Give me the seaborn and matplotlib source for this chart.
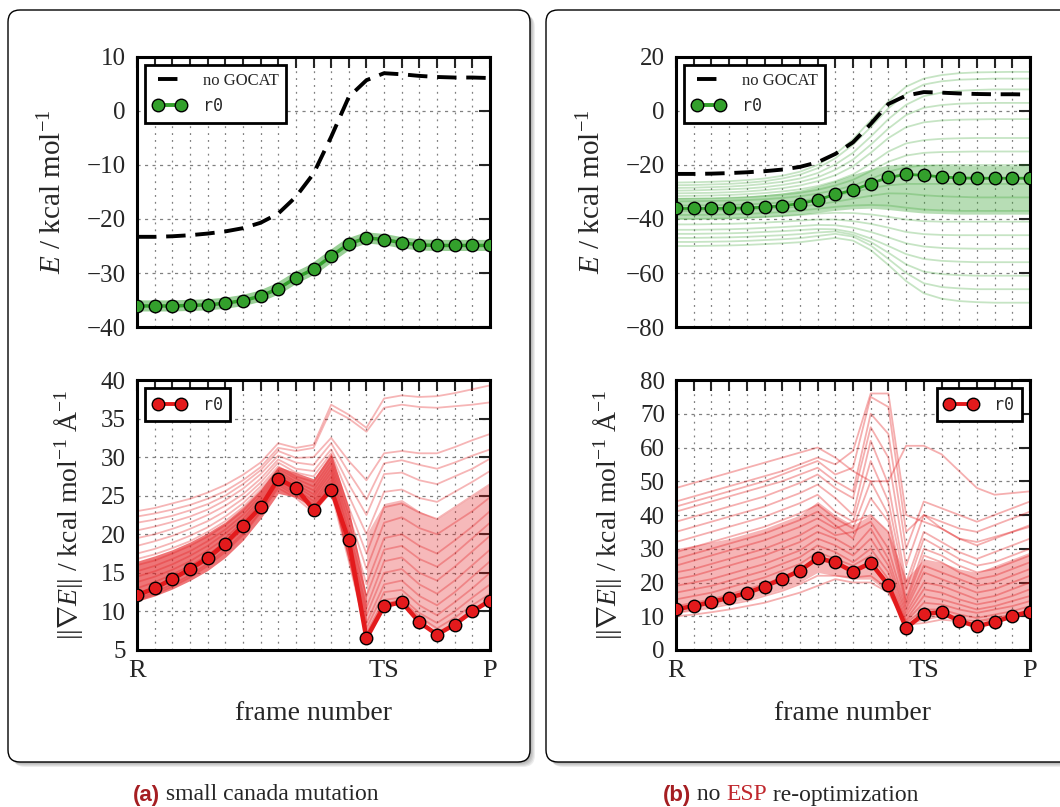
import matplotlib
matplotlib.use("Agg")
import matplotlib.pyplot as plt
import numpy as np
import pandas as pd
import seaborn as sns
from matplotlib.lines import Line2D
from matplotlib.patches import FancyBboxPatch
from matplotlib.transforms import IdentityTransform
from matplotlib.ticker import FixedLocator, MultipleLocator

# frames along the reaction path
frames = list(range(21))
frame_ticks = [0, 14, 20]
frame_labels = ["R", "TS", "P"]

# reference run r0 (same in both panels)
r0_energy = [-36.1, -36.1, -36.1, -36.0, -35.9, -35.6, -35.1, -34.3, -32.9, -30.9,
             -29.3, -26.9, -24.6, -23.5, -23.8, -24.4, -24.8, -24.9, -24.9, -24.9, -24.9]
r0_grad = [12.1, 13.0, 14.2, 15.5, 16.9, 18.8, 21.1, 23.5, 27.2, 26.0,
           23.2, 25.8, 19.2, 6.5, 10.7, 11.2, 8.6, 7.0, 8.3, 10.0, 11.4]
no_gocat_energy = [-23.3, -23.3, -23.2, -23.0, -22.7, -22.3, -21.7, -20.7, -19.0, -15.9,
                   -11.6, -4.8, 2.6, 5.7, 7.0, 6.8, 6.5, 6.3, 6.2, 6.2, 6.1]

# panel (a): gradient norms of the other runs
grad_a_runs = [
    [23.0, 23.4, 24.0, 24.6, 25.4, 26.4, 27.7, 29.3, 31.8, 31.2, 31.6, 36.8, 35.5, 33.8, 37.6, 38.0, 37.8, 37.9, 38.3, 38.8, 39.3],
    [22.3, 22.7, 23.2, 23.8, 24.6, 25.6, 27.0, 28.7, 31.2, 30.8, 31.2, 36.2, 35.0, 33.3, 36.4, 36.8, 36.5, 36.4, 36.6, 36.8, 37.1],
    [21.5, 21.9, 22.4, 23.1, 23.9, 25.0, 26.5, 28.3, 30.8, 29.9, 30.0, 32.5, 29.5, 27.0, 30.5, 30.8, 30.5, 30.5, 31.3, 32.2, 33.0],
    [20.5, 21.0, 21.6, 22.3, 23.2, 24.4, 25.9, 27.8, 30.2, 29.3, 29.0, 31.8, 28.0, 24.5, 29.2, 29.6, 29.0, 28.5, 29.3, 30.2, 31.0],
    [19.5, 20.0, 20.7, 21.5, 22.5, 23.7, 25.2, 27.2, 29.7, 28.5, 28.2, 31.0, 26.5, 22.5, 27.8, 28.0, 27.0, 26.5, 27.5, 28.5, 29.8],
    [18.5, 19.1, 19.8, 20.7, 21.7, 23.0, 24.6, 26.7, 29.3, 28.0, 27.5, 30.5, 25.0, 20.0, 25.5, 25.8, 24.7, 24.2, 25.5, 26.8, 28.2],
    [17.5, 18.1, 18.9, 19.8, 20.9, 22.3, 24.0, 26.2, 28.8, 27.5, 26.8, 30.0, 23.5, 17.5, 23.5, 24.0, 22.8, 22.0, 23.5, 25.0, 26.5],
    [16.8, 17.4, 18.2, 19.1, 20.3, 21.7, 23.5, 25.8, 28.5, 27.2, 26.2, 29.5, 22.5, 15.5, 21.5, 22.2, 20.8, 20.0, 21.5, 23.0, 24.8],
    [16.0, 16.6, 17.5, 18.5, 19.7, 21.2, 23.0, 25.4, 28.2, 26.8, 25.7, 29.0, 21.5, 13.5, 19.5, 20.0, 18.5, 17.5, 19.2, 21.0, 23.0],
    [15.2, 15.9, 16.8, 17.8, 19.1, 20.6, 22.5, 25.0, 27.9, 26.5, 25.2, 28.5, 20.5, 12.0, 18.0, 18.5, 16.8, 15.8, 17.5, 19.5, 21.5],
    [14.5, 15.2, 16.1, 17.2, 18.5, 20.1, 22.0, 24.6, 27.6, 26.2, 24.8, 28.0, 19.8, 10.5, 16.5, 17.0, 15.0, 14.0, 15.8, 17.8, 19.8],
    [13.8, 14.5, 15.4, 16.5, 17.9, 19.5, 21.6, 24.2, 27.3, 25.9, 24.3, 27.5, 19.0, 9.5, 15.0, 15.5, 13.5, 12.3, 14.0, 16.0, 18.0],
    [13.0, 13.8, 14.8, 15.9, 17.3, 19.0, 21.1, 23.8, 27.0, 25.6, 23.9, 27.0, 18.3, 8.5, 13.5, 14.0, 12.0, 10.8, 12.5, 14.5, 16.5],
    [12.3, 13.1, 14.1, 15.3, 16.7, 18.5, 20.6, 23.4, 26.7, 25.3, 23.5, 26.5, 17.5, 7.8, 12.5, 12.8, 10.8, 9.5, 11.2, 13.0, 15.0],
    [11.6, 12.5, 13.5, 14.7, 16.2, 18.0, 20.2, 23.0, 26.4, 25.0, 23.2, 26.0, 17.0, 7.2, 11.5, 11.8, 9.8, 8.5, 10.0, 11.8, 13.5],
    [11.4, 12.2, 13.2, 14.4, 15.9, 17.7, 19.9, 22.8, 26.0, 24.7, 22.8, 25.5, 16.5, 7.0, 11.0, 11.5, 9.3, 7.8, 9.2, 10.8, 12.3],
]
# dense core of the runs in panel (a), before and after the drop at frame 13
grad_a_pre_frames = frames[:14]
grad_a_pre_lo = [11.3, 12.0, 12.9, 14.0, 15.3, 17.0, 19.2, 22.0, 25.3, 24.8, 23.5, 25.5, 16.5, 6.5]
grad_a_pre_hi = [16.5, 17.2, 18.0, 19.0, 20.2, 21.6, 23.5, 25.8, 28.8, 28.0, 27.2, 30.5, 23.5, 12.0]
grad_a_post_frames = frames[13:]
grad_a_post_lo = [6.5, 10.5, 11.0, 9.0, 7.5, 8.5, 10.0, 11.5]
grad_a_post_hi = [20.0, 24.0, 24.5, 23.0, 22.0, 23.5, 25.0, 26.5]

# panel (b): energies of the other runs
energy_b_runs = [
    [-26.5, -26.4, -26.2, -26.0, -25.6, -25.0, -24.0, -22.5, -20.0, -16.0, -10.5, -3.5, 3.5, 9.0, 12.0, 13.3, 14.0, 14.3, 14.4, 14.5, 14.5],
    [-27.5, -27.4, -27.2, -27.0, -26.6, -26.0, -25.0, -23.6, -21.2, -17.5, -12.5, -6.0, 1.0, 6.5, 9.8, 11.0, 11.6, 11.8, 12.0, 12.0, 12.0],
    [-28.5, -28.4, -28.2, -28.0, -27.6, -27.0, -26.2, -25.0, -23.0, -19.8, -15.5, -9.5, -3.0, 2.3, 5.5, 6.8, 7.5, 7.8, 8.0, 8.0, 8.0],
    [-29.5, -29.4, -29.2, -29.0, -28.7, -28.2, -27.4, -26.3, -24.6, -21.8, -18.0, -12.5, -6.5, -1.5, 1.2, 2.2, 2.7, 2.9, 3.0, 3.0, 3.0],
    [-30.5, -30.4, -30.3, -30.1, -29.8, -29.3, -28.6, -27.6, -26.0, -23.8, -20.5, -15.5, -10.0, -6.0, -4.2, -3.5, -3.2, -3.1, -3.0, -3.0, -3.0],
    [-31.5, -31.4, -31.3, -31.1, -30.8, -30.4, -29.8, -29.0, -27.8, -26.0, -23.5, -19.5, -15.0, -12.0, -10.8, -10.3, -10.1, -10.0, -10.0, -10.0, -10.0],
    [-32.5, -32.4, -32.3, -32.1, -31.9, -31.5, -31.0, -30.3, -29.2, -27.6, -25.5, -22.3, -18.8, -16.5, -15.5, -15.2, -15.1, -15.0, -15.0, -15.0, -15.0],
    [-33.5, -33.4, -33.3, -33.2, -33.0, -32.7, -32.2, -31.6, -30.6, -29.3, -27.6, -25.2, -22.5, -20.8, -20.2, -20.0, -20.0, -20.0, -20.0, -20.0, -20.0],
    [-35.0, -35.0, -34.9, -34.8, -34.6, -34.3, -33.9, -33.3, -32.4, -31.3, -30.0, -28.6, -27.5, -27.0, -27.0, -27.0, -27.0, -27.0, -27.0, -27.0, -27.0],
    [-37.0, -37.0, -36.9, -36.8, -36.6, -36.3, -35.9, -35.4, -34.6, -33.6, -32.5, -31.4, -30.5, -30.6, -31.2, -31.6, -31.8, -32.0, -32.0, -32.0, -32.0],
    [-38.5, -38.5, -38.4, -38.3, -38.1, -37.8, -37.4, -36.9, -36.2, -35.5, -35.0, -34.8, -35.0, -35.8, -36.5, -36.8, -37.0, -37.0, -37.0, -37.0, -37.0],
    [-40.0, -40.0, -39.9, -39.8, -39.6, -39.3, -38.9, -38.5, -38.0, -37.7, -37.8, -38.3, -39.2, -40.2, -40.8, -41.0, -41.0, -41.0, -41.0, -41.0, -41.0],
    [-42.0, -42.0, -41.9, -41.8, -41.6, -41.3, -41.0, -40.6, -40.2, -40.2, -40.8, -41.8, -43.2, -44.8, -45.6, -45.9, -46.0, -46.0, -46.0, -46.0, -46.0],
    [-44.0, -44.0, -43.9, -43.8, -43.6, -43.3, -43.0, -42.6, -42.2, -42.3, -43.2, -44.8, -46.8, -49.0, -50.2, -50.7, -50.9, -51.0, -51.0, -51.0, -51.0],
    [-45.5, -45.5, -45.4, -45.3, -45.1, -44.8, -44.5, -44.1, -43.7, -43.8, -45.0, -47.2, -50.0, -53.0, -54.8, -55.5, -55.8, -56.0, -56.0, -56.0, -56.0],
    [-47.0, -47.0, -46.9, -46.8, -46.6, -46.3, -46.0, -45.6, -45.0, -44.6, -45.8, -48.5, -52.5, -56.8, -59.5, -60.4, -60.8, -61.0, -61.0, -61.0, -61.0],
    [-48.5, -48.5, -48.4, -48.3, -48.1, -47.8, -47.5, -47.1, -46.3, -45.5, -46.5, -49.8, -54.8, -60.0, -63.8, -65.2, -65.7, -66.0, -66.0, -66.0, -66.0],
    [-50.0, -50.0, -49.9, -49.8, -49.6, -49.3, -49.0, -48.6, -47.8, -47.0, -48.0, -51.5, -57.0, -63.0, -67.5, -69.5, -70.4, -70.8, -71.0, -71.0, -71.0],
]
energy_b_lo = [-40.0, -40.0, -40.0, -39.8, -39.6, -39.3, -38.9, -38.4, -37.6, -36.8, -36.2,
               -36.0, -36.5, -37.2, -37.8, -38.0, -38.2, -38.2, -38.2, -38.2, -38.2]
energy_b_hi = [-32.0, -32.0, -32.0, -31.8, -31.5, -31.0, -30.3, -29.3, -27.8, -25.8, -23.5,
               -21.5, -20.0, -19.5, -19.8, -20.0, -20.2, -20.2, -20.2, -20.2, -20.2]

# panel (b): gradient norms of the other runs
grad_b_runs = [
    [48, 49.5, 51, 52.5, 54, 55.5, 57, 58.5, 60, 57, 53, 50, 50, 60.5, 60.5, 58, 53, 48, 46, 46.5, 47],
    [44, 45.5, 47, 48.5, 50, 51.5, 53, 55, 57, 55, 59, 76, 76, 40, 38, 36, 33, 32, 33.5, 35, 36.5],
    [42.5, 44, 45.5, 47, 48.5, 50, 52, 54, 56, 52, 54, 75, 72, 35, 40, 38, 36, 35, 37, 39, 41],
    [41, 42.5, 44, 45.5, 47, 48.5, 50, 52, 54, 50, 47, 70, 64, 30, 44, 42, 40, 38, 40, 42, 44],
    [38, 39.5, 41, 42.5, 44, 45.5, 47.5, 49.5, 52, 48, 45, 66, 57, 25, 40, 36, 33, 31, 33, 35, 37],
    [35, 36.5, 38, 39.5, 41, 42.5, 44.5, 46.5, 49, 45, 40, 62, 49, 20, 35, 32, 29, 27, 29, 31, 33],
    [32, 33.5, 35, 36.5, 38, 39.5, 41.5, 43.5, 46, 41, 38, 56, 44, 18, 33, 30, 27, 25, 26, 28, 30],
    [29, 30.5, 32, 33.5, 35, 36.5, 38.5, 40.5, 43, 39, 36, 50, 40, 15, 30, 28, 25, 23, 24, 26, 28],
    [27, 28.5, 30, 31.5, 33, 34.5, 36.5, 38.5, 41, 37, 33, 45, 38, 14, 28, 26, 23, 21, 22, 24, 26],
    [25, 26.5, 28, 29.5, 31, 32.5, 34.5, 36.5, 39, 36, 38, 40, 35, 13, 25, 23, 21, 19, 20, 22, 24],
    [23, 24, 25.5, 27, 28.5, 30, 32, 34, 37, 34, 35, 38, 30, 12, 23, 21, 19, 17, 18, 20, 22],
    [21, 22, 23.5, 25, 26.5, 28, 30, 32, 35, 33, 30, 36, 27, 11, 20, 19, 17, 15, 16, 18, 20],
    [19, 20, 21, 22.5, 24, 25.5, 27.5, 29.5, 33, 31, 28, 33, 25, 10, 18, 17, 15, 13.5, 14.5, 16, 18],
    [17, 18, 19, 20.5, 22, 23.5, 25.5, 27.5, 31, 29, 26, 30, 23, 9, 16, 15, 13.5, 12, 13, 14.5, 16],
    [15, 16, 17, 18.5, 20, 21.5, 23.5, 25.5, 29, 27, 25, 28, 21, 8.5, 14, 13.5, 12, 11, 12, 13, 14.5],
    [13, 14, 15, 16.5, 18, 19.5, 21.5, 23.5, 27, 25.5, 24, 26, 20, 8, 12, 12, 10.5, 9.5, 10.5, 11.5, 13],
    [11, 11.7, 12.5, 13.5, 14.5, 16, 17.5, 19.5, 22, 22, 21.5, 22, 18, 7.5, 9, 10, 9, 8.5, 9.5, 10.5, 11.5],
    [10, 10.5, 11.2, 12, 13, 14, 15.5, 17, 19, 21, 20, 20, 17, 7.5, 8, 9, 8.5, 8, 9, 10, 11],
]
grad_b_lo = [11, 12, 13, 14, 15, 16.5, 18, 20, 23, 22, 21, 21, 17, 7, 10, 10, 9, 8.5, 9, 10, 11.5]
grad_b_hi = [30, 31, 32, 33, 34.5, 36, 38, 40, 44, 40, 37, 40, 35, 21, 27, 26, 24, 23, 25, 27, 29]

GREEN = "#33a02c"
RED = "#e31a1c"

sns.set_style("white")
plt.rcParams["font.family"] = ["Liberation Serif", "DejaVu Serif"]
plt.rcParams["mathtext.fontset"] = "custom"
plt.rcParams["mathtext.rm"] = "Liberation Serif"
plt.rcParams["mathtext.it"] = "Liberation Serif:italic"
plt.rcParams["mathtext.bf"] = "Liberation Serif:bold"
plt.rcParams["axes.unicode_minus"] = True

W, H = 1060, 807
fig = plt.figure(figsize=(W / 100, H / 100), dpi=100)


def add_ax(x0, y0, x1, y1):
    return fig.add_axes([x0 / W, 1 - y1 / H, (x1 - x0) / W, (y1 - y0) / H])


def runs_frame(runs):
    rows = [(k, f, v) for k, vals in enumerate(runs) for f, v in zip(frames, vals)]
    return pd.DataFrame(rows, columns=["run", "frame", "value"])


def style_ax(ax, ylim, ystep, bottom):
    ax.set_xlim(0, 20)
    ax.set_ylim(*ylim)
    ax.yaxis.set_major_locator(MultipleLocator(ystep))
    ax.xaxis.set_major_locator(FixedLocator(frame_ticks))
    ax.xaxis.set_minor_locator(MultipleLocator(1))
    ax.set_xticklabels(frame_labels if bottom else [])
    ax.tick_params(which="both", direction="in", top=True, right=True,
                   length=8, width=1.5, labelsize=18)
    ax.tick_params(axis="y", pad=8)
    ax.tick_params(axis="x", pad=7, labelsize=19)
    ax.grid(True, which="both", axis="x", ls=(0, (1.5, 4)), color="0.5", lw=0.9)
    ax.grid(True, which="major", axis="y", ls=(0, (2.5, 3.5)), color="0.5", lw=0.9)
    for s in ax.spines.values():
        s.set_linewidth(2.2)
        s.set_color("black")
    ax.set_xlabel("frame number" if bottom else "", fontsize=20, labelpad=14)


def legend(ax, color, with_dash, loc):
    handles, labels = [], []
    if with_dash:
        handles.append(Line2D([], [], color="black", lw=2.8, dashes=(5, 2.5)))
        labels.append("no GOCAT")
    handles.append(Line2D([], [], color=color, lw=2.8, marker="o", markersize=9,
                          markeredgecolor="black", markeredgewidth=1))
    labels.append("r0")
    leg = ax.legend(handles, labels, loc=loc, fontsize=12, numpoints=2,
                    fancybox=False, framealpha=1, edgecolor="black",
                    handlelength=2.0, handletextpad=1.0, borderpad=0.45)
    leg.get_frame().set_linewidth(2)
    leg.set_zorder(20)
    for t in leg.get_texts():
        if t.get_text() == "r0":
            t.set_fontfamily("DejaVu Sans Mono")


def faint_lines(ax, runs, color, alpha):
    sns.lineplot(data=runs_frame(runs), x="frame", y="value", units="run",
                 estimator=None, color=color, alpha=alpha, lw=1.3, legend=False, ax=ax)


def r0_line(ax, values, color, lw):
    sns.lineplot(x=frames, y=values, color=color, lw=lw, marker="o", markersize=9,
                 markeredgecolor="black", markeredgewidth=1, zorder=10, ax=ax)


def ylabel(ax, text, size, xpos):
    ax.set_ylabel(text, fontsize=size)
    ax.yaxis.set_label_coords(xpos, 0.5)


E_LABEL = r"$E$ / kcal mol$^{-1}$"
G_LABEL = r"$||\mathbf{\nabla}E||$ / kcal mol$^{-1}$ Å$^{-1}$"

# panel (a) energy
ax = add_ax(137, 57, 490, 327)
sns.lineplot(x=frames, y=r0_energy, color=GREEN, lw=8, alpha=0.5, ax=ax)
sns.lineplot(x=frames, y=no_gocat_energy, color="black", lw=2.8, ax=ax).lines[-1].set_dashes((5, 2.5))
r0_line(ax, r0_energy, GREEN, 2.5)
style_ax(ax, (-40, 10), 10, False)
ylabel(ax, E_LABEL, 21, -0.198)
legend(ax, GREEN, True, "upper left")

# panel (a) gradient
ax = add_ax(137, 380, 490, 650)
ax.fill_between(grad_a_pre_frames, grad_a_pre_lo, grad_a_pre_hi, color=RED, alpha=0.6, lw=0)
ax.fill_between(grad_a_post_frames, grad_a_post_lo, grad_a_post_hi, color=RED, alpha=0.3, lw=0)
faint_lines(ax, grad_a_runs, RED, 0.32)
r0_line(ax, r0_grad, RED, 3.2)
style_ax(ax, (5, 40), 5, True)
ylabel(ax, G_LABEL, 20, -0.147)
legend(ax, RED, False, "upper left")

# panel (b) energy
ax = add_ax(676, 57, 1030, 327)
ax.fill_between(frames, energy_b_lo, energy_b_hi, color=GREEN, alpha=0.35, lw=0)
faint_lines(ax, energy_b_runs, GREEN, 0.28)
sns.lineplot(x=frames, y=no_gocat_energy, color="black", lw=2.8, ax=ax).lines[-1].set_dashes((5, 2.5))
r0_line(ax, r0_energy, GREEN, 2.0)
style_ax(ax, (-80, 20), 20, False)
ylabel(ax, E_LABEL, 21, -0.198)
legend(ax, GREEN, True, "upper left")

# panel (b) gradient
ax = add_ax(676, 380, 1030, 650)
ax.fill_between(frames, grad_b_lo, grad_b_hi, color=RED, alpha=0.32, lw=0)
faint_lines(ax, grad_b_runs, RED, 0.35)
r0_line(ax, r0_grad, RED, 3.2)
style_ax(ax, (0, 80), 10, True)
ylabel(ax, G_LABEL, 20, -0.147)
legend(ax, RED, False, "upper right")

# rounded panel boxes with a soft shadow (pixel coordinates)
for x0, x1 in [(8, 530), (546, 1080)]:
    y0, y1 = H - 762, H - 10
    for i in range(1, 6):
        fig.add_artist(FancyBboxPatch((x0 + i, y0 - i), x1 - x0, y1 - y0,
                                      boxstyle="round,pad=0,rounding_size=12",
                                      transform=IdentityTransform(), fc="black",
                                      ec="none", alpha=0.07, zorder=-6))
    fig.add_artist(FancyBboxPatch((x0, y0), x1 - x0, y1 - y0,
                                  boxstyle="round,pad=0,rounding_size=12",
                                  transform=IdentityTransform(), fc="white",
                                  ec="black", lw=1.0, zorder=-5))

# captions, built piece by piece
renderer = fig.canvas.get_renderer()
cap_y = 1 - 795 / H
DARKRED = "#a51e22"


def caption(x_start, parts):
    x = x_start
    for txt, kw in parts:
        t = fig.text(x, cap_y, txt, va="center", ha="left", **kw)
        bb = t.get_window_extent(renderer)
        x = bb.x1 / W


serif = dict(fontsize=17, family=["Liberation Serif"])
sans = dict(fontsize=16, family=["Liberation Sans Narrow", "Liberation Sans"],
            weight="bold", color=DARKRED)
caption(133 / W, [("(a)", sans), (" small canada mutation", serif)])
caption(663 / W, [("(b)", sans), (" no ", serif),
                  ("ESP", dict(serif, color="#c0272d")), (" re-optimization", serif)])

fig.savefig("out.png", dpi=100)
